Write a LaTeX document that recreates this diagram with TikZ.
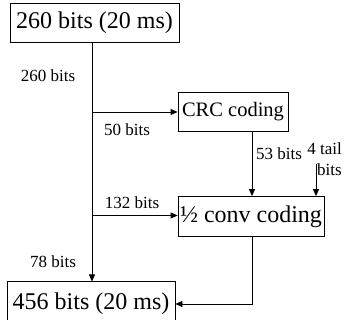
\documentclass[tikz,border=0pt]{standalone}
\usepackage{fontspec}
\setmainfont{Liberation Serif}
\usetikzlibrary{arrows.meta}
\begin{document}
\begin{tikzpicture}[x=1pt,y=-1pt,
  box/.style={draw,line width=0.8pt,inner sep=0pt,font=\fontsize{24}{26}\selectfont},
  lbl/.style={inner sep=0pt,font=\fontsize{17}{21}\selectfont},
  conn/.style={line width=0.8pt},
  arr/.style={conn,-{Triangle[length=7pt,width=6pt]}}]
\useasboundingbox (0,0) rectangle (362,320);
\node[box,minimum width=169pt,minimum height=39pt] (top) at (94.5,22.5) {260 bits (20 ms)};
\node[box,minimum width=110pt,minimum height=39pt,font=\fontsize{20.5}{22}\selectfont] (crc) at (233,111.5) {CRC coding};
\node[box,minimum width=146pt,minimum height=40pt] (conv) at (251,216.5) {½ conv coding};
\node[box,minimum width=168pt,minimum height=44pt,anchor=north] (bot) at (91,281.5) {456 bits (20 ms)};
\coordinate (v) at (92,0);
\coordinate (tail) at (316,164);
\coordinate (c1) at (252,0);
\draw[arr] (v |- top.south) -- (v |- bot.north);
\draw[arr] (v |- 0,112) -- (crc.west |- 0,112);
\draw[arr] (v |- 0,215.5) -- (conv.west |- 0,215.5);
\draw[arr] (c1 |- crc.south) -- (c1 |- conv.north);
\draw[arr] (tail) -- (tail |- conv.north);
\draw[arr] (c1 |- conv.south) |- (bot.east |- 0,304);
\node[lbl] (l260) at (48,76) {260 bits};
\node[lbl] (l50) at (127,130) {50 bits};
\node[lbl,anchor=west] (l53) at (256,154) {53 bits};
\node[lbl,align=right,anchor=east] (l4) at (342,159) {4 tail\\bits};
\node[lbl] (l132) at (132,203) {132 bits};
\node[lbl] (l78) at (53,262) {78 bits};
\end{tikzpicture}
\end{document}
